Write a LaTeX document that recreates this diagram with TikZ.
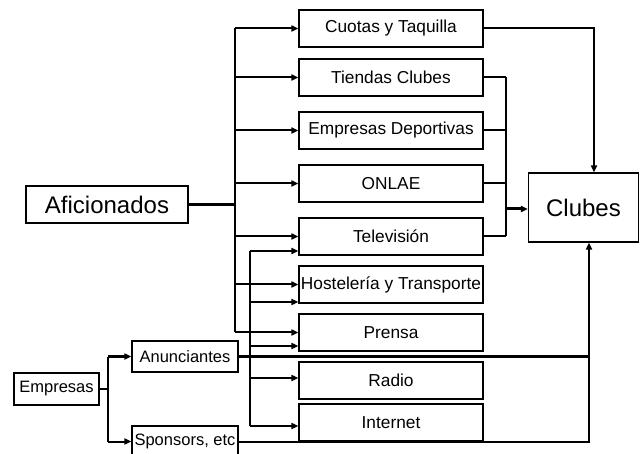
\documentclass[tikz,border=0pt]{standalone}
\usepackage{fontspec}
\setmainfont{Liberation Sans}
\usetikzlibrary{arrows.meta,calc}
\begin{document}
\begin{tikzpicture}[x=1pt,y=-1pt,
  box/.style={draw, line width=1.2pt, inner sep=0pt, minimum height=37pt, font=\fontsize{16.5}{18}\selectfont},
  mid/.style={box, minimum width=184pt, font=\fontsize{17.3}{19}\selectfont},
  big/.style={draw, line width=1.2pt, inner sep=0pt, font=\fontsize{24}{26}\selectfont},
  con/.style={line width=2pt},
  thick con/.style={line width=3pt},
  arr/.style={line width=2pt, -{Triangle[length=7pt,width=6pt]}},
]
\useasboundingbox (0,0) rectangle (640,454);
% middle column
\node[mid] (cuotas) at (391,28.5) {Cuotas y Taquilla};
\node[mid] (tiendas) at (391,77.5) {Tiendas Clubes};
\node[mid] (edep) at (391,130.5) {Empresas Deportivas};
\node[mid] (onlae) at (391,183.5) {ONLAE};
\node[mid] (tv) at (391,236.5) {Televisión};
\node[mid] (host) at (391,284.5) {Hostelería y Transporte};
\node[mid] (prensa) at (391,332.5) {Prensa};
\node[mid] (radio) at (391,380.5) {Radio};
\node[mid] (internet) at (391,422.5) {Internet};
% big boxes
\node[big, minimum width=162pt, minimum height=37pt] (afi) at (107,204.5) {Aficionados};
\node[big, minimum width=110pt, minimum height=69pt] (clubes) at (583.5,207.5) {Clubes};
% lower left
\node[box, minimum width=85pt, minimum height=32pt] (emp) at (56.5,389) {Empresas};
\node[box, minimum width=106pt, minimum height=31pt] (anun) at (185,356.5) {Anunciantes};
\node[box, minimum width=106pt, minimum height=31pt] (spon) at (185,441.5) {Sponsors, etc};
% junction coordinates
\coordinate (ja) at (235,204.5);
\coordinate (jb) at (250,356.5);
\coordinate (jr) at (506,209);
\coordinate (jc) at (594,28.5);
\coordinate (js) at (589,441.5);
\coordinate (je) at (108,389);
% Aficionados bus
\draw[thick con] (afi.east) -- (ja);
\draw[con] (cuotas.west -| ja) -- (prensa.west -| ja);
\foreach \b in {cuotas,tiendas,edep,onlae,tv,host,prensa}
  \draw[arr] (\b.west -| ja) -- (\b.west);
% Anunciantes bus
\draw[con] ($(tv.west -| jb)+(0,14.5)$) -- ($(internet.west -| jb)+(0,3.5)$);
\draw[arr] ($(tv.west -| jb)+(0,14.5)$) -- ($(tv.west)+(0,14.5)$);
\draw[arr] ($(host.west -| jb)+(0,17.5)$) -- ($(host.west)+(0,17.5)$);
\draw[arr] ($(prensa.west -| jb)+(0,13.5)$) -- ($(prensa.west)+(0,13.5)$);
\draw[arr] ($(radio.west -| jb)+(0,-2.5)$) -- ($(radio.west)+(0,-2.5)$);
\draw[arr] ($(internet.west -| jb)+(0,3.5)$) -- ($(internet.west)+(0,3.5)$);
% right side
\draw[arr] (cuotas.east) -- (jc) -- (jc |- clubes.north);
\foreach \b in {tiendas,edep,onlae,tv}
  \draw[con] (\b.east) -- (\b.east -| jr);
\draw[con] (tiendas.east -| jr) -- (tv.east -| jr);
\draw[thick con, -{Triangle[length=7pt,width=6pt]}] (jr) -- (jr -| clubes.west);
\draw[con] (anun.east) -- (anun.east -| js);
\draw[arr] (spon.east) -- (js) -- (js |- clubes.south);
% Empresas
\draw[con] (emp.east) -- (je);
\draw[con] (anun.west -| je) -- (spon.west -| je);
\draw[arr] (anun.west -| je) -- (anun.west);
\draw[arr] (spon.west -| je) -- (spon.west);
\end{tikzpicture}
\end{document}
